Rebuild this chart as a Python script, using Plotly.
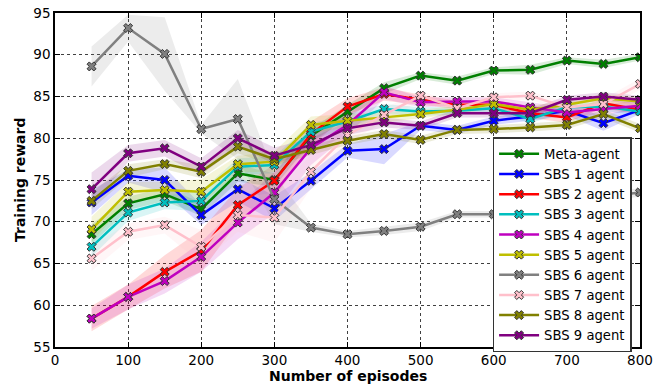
import plotly.graph_objects as go

episodes = [50, 100, 150, 200, 250, 300, 350, 400, 450, 500, 550, 600, 650, 700, 750, 800]

names = ["Meta-agent", "SBS 1 agent", "SBS 2 agent", "SBS 3 agent", "SBS 4 agent",
         "SBS 5 agent", "SBS 6 agent", "SBS 7 agent", "SBS 8 agent", "SBS 9 agent"]

meta = [68.5, 72.2, 73.3, 71.5, 75.8, 75.0, 80.3, 83.2, 86.0, 87.5, 86.9, 88.1, 88.2, 89.3, 88.9, 89.7]
sbs1 = [72.3, 75.5, 75.0, 70.8, 73.9, 71.6, 74.9, 78.5, 78.7, 81.5, 81.0, 82.1, 82.6, 83.3, 81.8, 83.4]
sbs2 = [58.4, 61.0, 64.0, 66.5, 72.0, 74.9, 80.5, 83.8, 85.3, 84.6, 84.0, 84.0, 83.0, 82.5, 84.2, 83.4]
sbs3 = [67.0, 71.1, 72.3, 72.5, 76.6, 76.8, 80.8, 82.0, 83.5, 83.2, 83.3, 83.6, 82.3, 83.7, 83.8, 83.2]
sbs4 = [58.4, 61.0, 62.9, 65.8, 69.9, 73.5, 78.8, 81.6, 85.5, 84.3, 84.4, 84.4, 83.7, 83.1, 83.5, 83.9]
sbs5 = [69.1, 73.6, 73.8, 73.6, 76.9, 77.2, 81.6, 82.1, 82.5, 82.9, 83.4, 84.1, 83.4, 84.0, 84.8, 84.4]
sbs6 = [88.6, 93.2, 90.1, 81.1, 82.3, 72.7, 69.3, 68.5, 68.9, 69.4, 70.9, 70.9, 71.6, 72.3, 73.0, 73.5]
sbs7 = [65.6, 68.8, 69.6, 67.0, 70.8, 70.5, 76.0, 80.4, 82.8, 85.1, 83.6, 84.9, 85.1, 83.7, 84.1, 86.5]
sbs8 = [72.5, 76.1, 76.9, 76.0, 79.0, 77.5, 78.6, 79.7, 80.5, 79.8, 81.0, 81.1, 81.3, 81.6, 82.9, 81.2]
sbs9 = [73.9, 78.2, 78.8, 76.6, 80.0, 77.9, 79.2, 81.2, 81.9, 81.5, 83.0, 83.0, 83.0, 84.6, 85.0, 84.6]

# half-width of the shaded spread bands
spread_meta = [1.2, 0.8, 0.8, 0.8, 1.0, 0.8, 0.8, 0.8, 0.7, 0.4, 0.5, 0.4, 0.6, 0.4, 0.5, 0.4]
spread_sbs1 = [1.5, 0.8, 1.5, 1.2, 1.5, 1.5, 1.0, 0.8, 1.8, 0.5, 0.5, 0.5, 0.5, 0.6, 0.9, 0.5]
spread_sbs2 = [1.5, 1.5, 2.0, 2.5, 2.0, 2.0, 1.5, 1.0, 0.8, 0.6, 0.5, 0.5, 0.6, 0.6, 0.6, 0.6]
spread_sbs3 = [1.2, 1.0, 0.8, 1.2, 1.0, 1.0, 1.0, 0.8, 0.6, 0.5, 0.5, 0.5, 0.5, 0.5, 0.5, 0.5]
spread_sbs4 = [1.2, 1.5, 1.5, 1.8, 2.0, 2.5, 2.0, 1.2, 0.8, 0.6, 0.5, 0.5, 0.6, 0.6, 0.6, 0.6]
spread_sbs5 = [1.5, 1.2, 1.0, 1.5, 1.0, 1.2, 1.0, 0.8, 0.6, 0.5, 0.5, 0.5, 0.5, 0.5, 0.5, 0.5]
spread_sbs6 = [2.4, 1.6, 4.4, 0.5, 4.8, 3.0, 0.5, 0.4, 0.5, 0.5, 0.4, 0.4, 0.5, 0.5, 0.5, 0.5]
spread_sbs7 = [1.5, 1.0, 1.0, 2.0, 2.0, 3.0, 2.0, 1.0, 0.8, 0.6, 0.5, 0.5, 0.5, 0.6, 0.6, 0.7]
spread_sbs8 = [1.0, 0.8, 0.6, 0.8, 0.8, 0.8, 0.6, 0.5, 0.5, 0.5, 0.5, 0.5, 0.5, 0.5, 0.5, 0.5]
spread_sbs9 = [2.0, 1.0, 1.0, 1.0, 1.0, 1.0, 0.8, 0.8, 0.6, 0.5, 0.5, 0.5, 0.5, 0.5, 0.5, 0.5]

colors = ["#008000", "#0000ff", "#ff0000", "#00bfbf", "#bf00bf",
          "#bfbf00", "#808080", "#ffc0cb", "#808000", "#800080"]

series = [meta, sbs1, sbs2, sbs3, sbs4, sbs5, sbs6, sbs7, sbs8, sbs9]
spreads = [spread_meta, spread_sbs1, spread_sbs2, spread_sbs3, spread_sbs4,
           spread_sbs5, spread_sbs6, spread_sbs7, spread_sbs8, spread_sbs9]

x_ticks = [0, 100, 200, 300, 400, 500, 600, 700, 800]
y_ticks = [55, 60, 65, 70, 75, 80, 85, 90, 95]


def rgba(hexc, a):
    h = hexc.lstrip("#")
    r, g, b = int(h[0:2], 16), int(h[2:4], 16), int(h[4:6], 16)
    return f"rgba({r},{g},{b},{a})"


fig = go.Figure()

for vals, sp, col in zip(series, spreads, colors):
    upper = [v + s for v, s in zip(vals, sp)]
    lower = [v - s for v, s in zip(vals, sp)]
    fig.add_trace(go.Scatter(
        x=episodes + episodes[::-1], y=upper + lower[::-1],
        fill="toself", fillcolor=rgba(col, 0.15), line=dict(width=0),
        mode="lines", hoverinfo="skip", showlegend=False))

for name, vals, col in zip(names, series, colors):
    fig.add_trace(go.Scatter(
        x=episodes, y=vals, name=name, mode="lines+markers",
        line=dict(color=col, width=2.5),
        marker=dict(symbol="x", size=8, color=col,
                    line=dict(color="#333333", width=1))))

axis_common = dict(
    showline=True, linecolor="black", linewidth=1.5, mirror="ticks",
    ticks="inside", ticklen=5, tickcolor="black",
    showgrid=True, gridcolor="rgba(0,0,0,0.75)", griddash="dot", gridwidth=1,
    zeroline=False, tickfont=dict(size=13.5, color="black"), automargin=False,
)

fig.update_xaxes(range=[0, 800], tickvals=x_ticks, **axis_common)
fig.update_yaxes(range=[55, 95], tickvals=y_ticks, **axis_common)

fig.add_annotation(text="<b>Number of episodes</b>", xref="paper", yref="paper",
                   x=0.5, y=0, yshift=-29, xanchor="center", yanchor="middle",
                   showarrow=False, font=dict(size=14, color="black"))
fig.add_annotation(text="<b>Training reward</b>", xref="paper", yref="paper",
                   x=0, y=0.5, xshift=-35, xanchor="center", yanchor="middle",
                   textangle=-90, showarrow=False, font=dict(size=14, color="black"))

fig.update_layout(
    width=661, height=386,
    margin=dict(l=55, r=21, t=13, b=39),
    paper_bgcolor="white", plot_bgcolor="white",
    font=dict(family="DejaVu Sans", color="black"),
    legend=dict(x=0.748, y=0.628, xanchor="left", yanchor="top",
                bgcolor="white", bordercolor="#333333", borderwidth=1.5,
                font=dict(size=13.2), tracegroupgap=0, itemwidth=40),
    showlegend=True,
)

fig.write_html("out.html")
